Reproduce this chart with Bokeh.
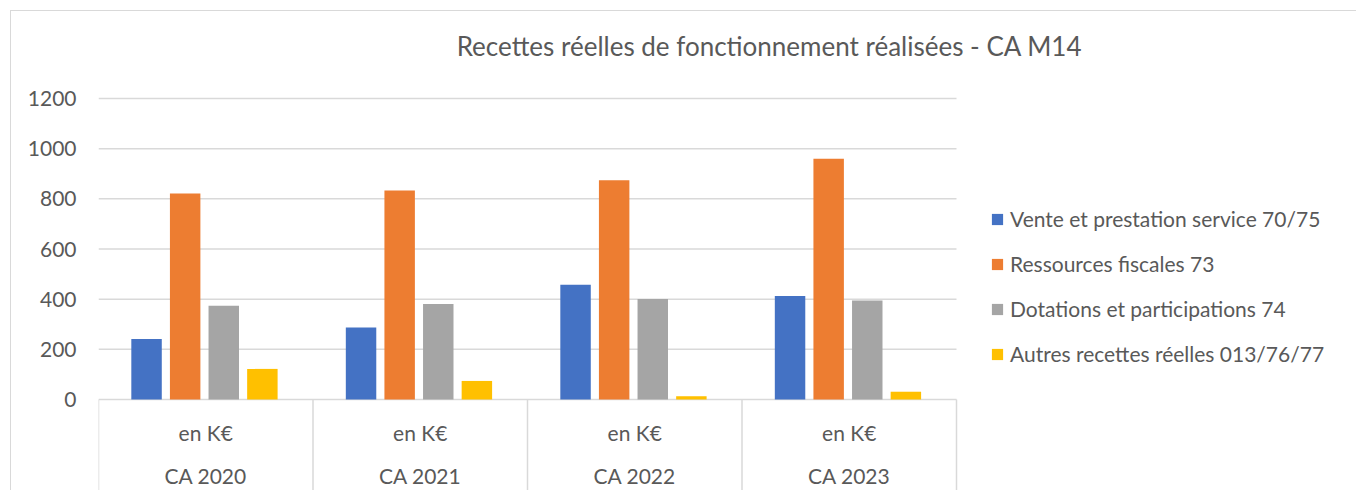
import numpy as np
from bokeh.plotting import figure
from bokeh.models import Range1d, FixedTicker, ColumnDataSource, Legend, LegendItem
from bokeh.core.properties import value
from bokeh.embed import file_html
from bokeh.resources import INLINE

years = ["CA 2020", "CA 2021", "CA 2022", "CA 2023"]
unit_label = "en K€"
title_text = "Recettes réelles de fonctionnement réalisées - CA M14"
series_names = [
    "Vente et prestation service 70/75",
    "Ressources fiscales 73",
    "Dotations et participations 74",
    "Autres recettes réelles 013/76/77",
]
vente = [241, 287, 457, 413]
ressources = [821, 833, 874, 960]
dotations = [374, 381, 401, 395]
autres = [122, 74, 13, 31]
y_ticks = [0, 200, 400, 600, 800, 1000, 1200]

colors = ["#4472C4", "#ED7D31", "#A5A5A5", "#FFC000"]
offsets = [-0.276, -0.096, 0.084, 0.264]
TXT = "#595959"
GRID = "#d9d9d9"
FONT = "Lato"

# layout in pixels
FIG_W, FIG_H = 1346, 480
LEFT = 87
FRAME_W = FIG_W - LEFT
CAT_W = 214.5            # px per category
PX_ZERO_FROM_BOTTOM = 92  # px from frame bottom to value 0
PX_PER_UNIT = 301 / 1200.0
upp = 1 / PX_PER_UNIT
y_bottom = -PX_ZERO_FROM_BOTTOM * upp
y_top = y_bottom + FIG_H * upp

n = len(years)
xc = np.arange(n) + 0.5

p = figure(
    x_range=Range1d(0, FRAME_W / CAT_W),
    y_range=Range1d(y_bottom, y_top),
    width=FIG_W, height=FIG_H,
    output_backend="svg", toolbar_location=None,
    min_border_left=LEFT, min_border_right=0, min_border_top=0, min_border_bottom=0,
    styles={"margin-left": "10px", "margin-top": "10px",
            "border-left": f"1px solid {GRID}", "border-top": f"1px solid {GRID}"},
)
p.outline_line_color = None
p.background_fill_color = "white"
p.border_fill_color = "white"
p.xaxis.visible = False
p.xgrid.visible = False
p.ygrid.visible = False

yax = p.yaxis[0]
yax.ticker = FixedTicker(ticks=y_ticks)
yax.axis_line_color = None
yax.major_tick_line_color = None
yax.minor_tick_line_color = None
yax.major_tick_out = 0
yax.major_tick_in = 0
yax.major_label_standoff = 22
yax.major_label_text_font = FONT
yax.major_label_text_font_size = "21px"
yax.major_label_text_color = TXT

# horizontal gridlines over the category area only
p.segment(x0=0, x1=n, y0=y_ticks, y1=y_ticks, line_color=GRID, line_width=1.5)

source = ColumnDataSource(dict(xc=xc, v0=vente, v1=ressources, v2=dotations, v3=autres))
renderers = []
for i, col in enumerate(["v0", "v1", "v2", "v3"]):
    r = p.vbar(x=xc + offsets[i], top=source.data[col], bottom=0,
               width=0.142, fill_color=colors[i], line_color=None)
    renderers.append(r)

# category dividers
edges = np.arange(n + 1)
p.segment(x0=edges, x1=edges, y0=0, y1=y_bottom, line_color=GRID, line_width=1.5)

lab_src = ColumnDataSource(dict(x=xc, year=years, unit=[unit_label] * n))
p.text(x="x", y=-33 * upp, text="unit", source=lab_src, text_align="center",
       text_baseline="middle", text_font=value(FONT), text_font_size="21px", text_color=TXT)
p.text(x="x", y=-76 * upp, text="year", source=lab_src, text_align="center",
       text_baseline="middle", text_font=value(FONT), text_font_size="21px", text_color=TXT)

# title
p.text(x=[(769 - 98) / CAT_W], y=[1200 + (98 - 45) * upp], text=[title_text],
       text_align="center", text_baseline="middle", text_font=value(FONT),
       text_font_size="26px", text_color=TXT)

legend = Legend(items=[LegendItem(label=series_names[i], renderers=[renderers[i]]) for i in range(4)],
                location=(892, 125), orientation="vertical", glyph_width=14, glyph_height=14,
                label_standoff=6, spacing=20, padding=0, margin=0,
                label_text_font=FONT, label_text_font_size="21px", label_text_color=TXT,
                border_line_color=None, background_fill_alpha=0)
p.add_layout(legend, "center")

open("out.html", "w").write(file_html(p, INLINE))
